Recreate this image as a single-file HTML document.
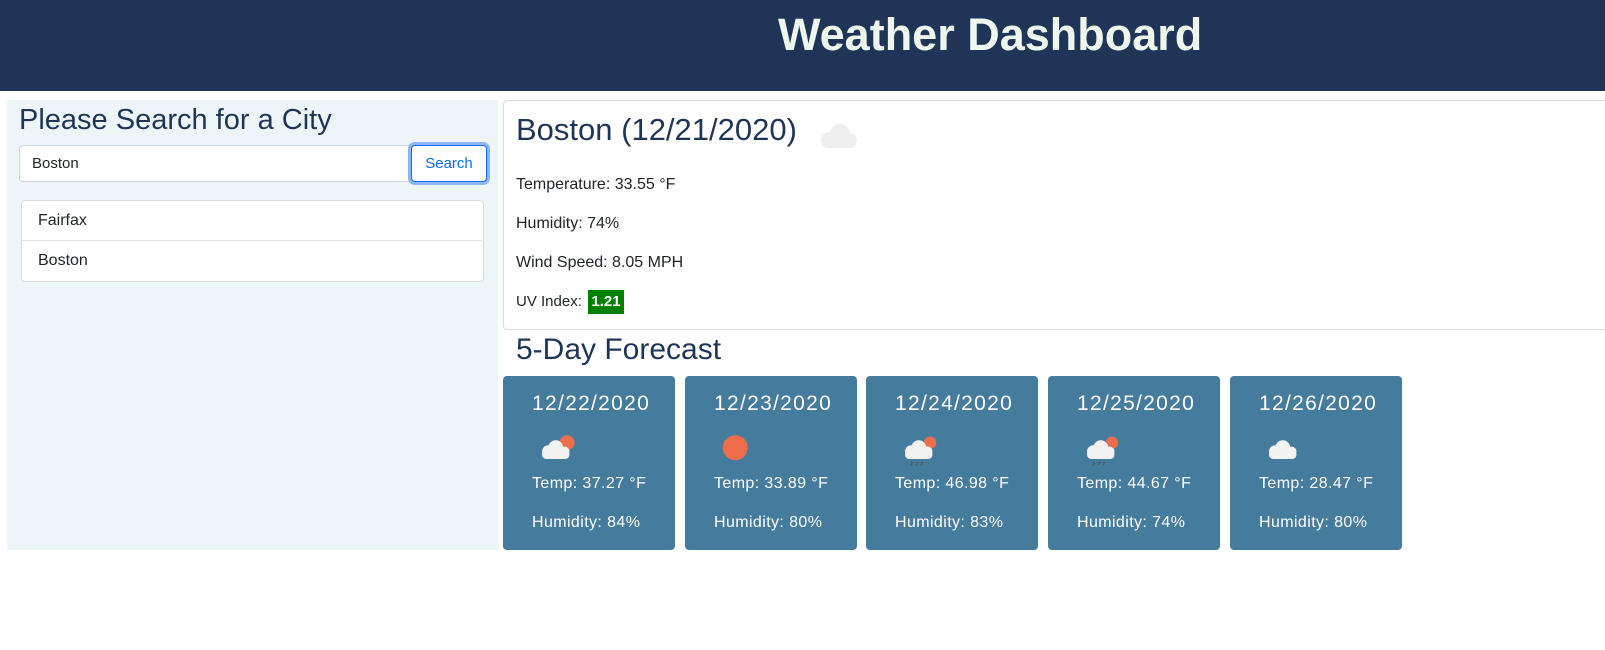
<!DOCTYPE html>
<html><head><meta charset="utf-8"><style>
body{margin:0;width:1605px;height:650px;background:#fff;font-family:"Liberation Sans",sans-serif;position:relative;overflow:hidden}
.a{position:absolute}
.t{color:#212529;font-size:16px;line-height:18px;white-space:nowrap}
.card{position:absolute;top:376px;width:172px;height:174px;background:#457b9d;border-radius:4px;color:#fff}
</style></head><body>
<div class="a" style="left:0;top:0;width:1605px;height:91px;background:#1f3557"></div>
<div class="a" style="left:778px;top:8px;font-size:45px;line-height:54px;font-weight:bold;color:#eef6ee">Weather Dashboard</div>

<div class="a" style="left:7px;top:100px;width:491px;height:450px;background:#edf5f8"></div>
<div class="a" style="left:19px;top:102px;font-size:29px;line-height:36px;color:#1f3557">Please Search for a City</div>
<div class="a t" style="left:19px;top:145px;width:377px;height:35px;background:#fff;border:1px solid #ced4da;border-radius:4px 0 0 4px;line-height:35px;padding-left:12px;font-size:15px">Boston</div>
<div class="a" style="left:411px;top:145px;width:74px;height:35px;background:#fff;border:1px solid #0d6efd;border-radius:4px;box-shadow:0 0 0 3px #8fb7f7;color:#0d6efd;font-size:15px;line-height:35px;text-align:center">Search</div>
<div class="a" style="left:21px;top:200px;width:461px;height:80px;background:#fff;border:1px solid #dcdcdc;border-radius:4px"></div>
<div class="a" style="left:22px;top:240px;width:460px;height:1px;background:#e3e3e3"></div>
<div class="a t" style="left:38px;top:212px">Fairfax</div>
<div class="a t" style="left:38px;top:252px">Boston</div>

<div class="a" style="left:503px;top:100px;width:1110px;height:228px;background:#fff;border:1px solid #dcdcdc;border-radius:4px"></div>
<div class="a" style="left:516px;top:112px;font-size:31px;line-height:36px;color:#1f3557">Boston (12/21/2020)</div>
<svg class="a" style="left:818px;top:120px" width="42" height="30"><g fill="#efefef"><circle cx="22" cy="14" r="10"/><circle cx="11" cy="20" r="8"/><circle cx="32" cy="20" r="7"/><rect x="4" y="18" width="34" height="10" rx="5"/></g></svg>
<div class="a t" style="left:516px;top:176px">Temperature: 33.55 °F</div>
<div class="a t" style="left:516px;top:215px">Humidity: 74%</div>
<div class="a t" style="left:516px;top:254px">Wind Speed: 8.05 MPH</div>
<div class="a t" style="left:516px;top:293px;font-size:15px">UV Index:</div>
<div class="a" style="left:588px;top:290px;width:36px;height:24px;background:#008000;color:#fff;font-size:15px;font-weight:bold;line-height:24px;text-align:center">1.21</div>

<div class="a" style="left:516px;top:332px;font-size:30px;line-height:36px;color:#1f3557">5-Day Forecast</div>

<div class="card" style="left:503px"></div>
<div class="card" style="left:685px"></div>
<div class="card" style="left:866px"></div>
<div class="card" style="left:1048px"></div>
<div class="card" style="left:1230px"></div>

<div id="fc"></div>
<script>
const dates=["12/22/2020","12/23/2020","12/24/2020","12/25/2020","12/26/2020"];
const temps=["37.27","33.89","46.98","44.67","28.47"];
const hums=["84","80","83","74","80"];
const icons=["partly","sun","rain","rain","cloud"];
const lefts=[503,685,866,1048,1230];
const fc=document.getElementById('fc');
const cloud='<g fill="#f2f2f2"><circle cx="15" cy="14" r="6"/><circle cx="9" cy="17" r="5"/><circle cx="22" cy="17" r="4"/><rect x="4" y="16" width="22" height="7" rx="3.5"/></g>';
for(let i=0;i<5;i++){
  const x=lefts[i];
  const mk=(top,txt,fs,ls,nm)=>{const d=document.createElement('div');d.className='a';d.style.cssText=`left:${x+29}px;top:${top}px;color:#fff;font-size:${fs}px;letter-spacing:${ls}px;line-height:22px;white-space:nowrap`;d.textContent=txt;
    
    
    fc.appendChild(d);};
  mk(393,dates[i],21,1.3,'forecast-date');
  mk(473,'Temp: '+temps[i]+' °F',16,0.4,'forecast-temp');
  mk(512,'Humidity: '+hums[i]+'%',16,0.4,'forecast-humidity');
  let s='';
  if(icons[i]==='sun') s='<circle cx="13" cy="14" r="10" fill="#ee6e4b"/>';
  else if(icons[i]==='partly') s='<circle cx="24" cy="10" r="6" fill="#ee6e4b"/>'+cloud;
  else if(icons[i]==='rain') s='<circle cx="24" cy="10" r="5" fill="#ee6e4b"/>'+cloud+'<g stroke="#555" stroke-width="1"><line x1="10" y1="25" x2="9" y2="28"/><line x1="14" y1="25" x2="13" y2="28"/><line x1="18" y1="25" x2="17" y2="28"/></g>';
  else s=cloud;
  const svg=document.createElementNS('http://www.w3.org/2000/svg','svg');
  svg.setAttribute('width','40');svg.setAttribute('height','38');
  svg.setAttribute('viewBox','0 0 32 30');
  svg.setAttribute('class','a');
  svg.style.left=(x+34)+'px';svg.style.top='430px';
  svg.innerHTML=s;
  
  
  fc.appendChild(svg);
}
</script>
</body></html>
